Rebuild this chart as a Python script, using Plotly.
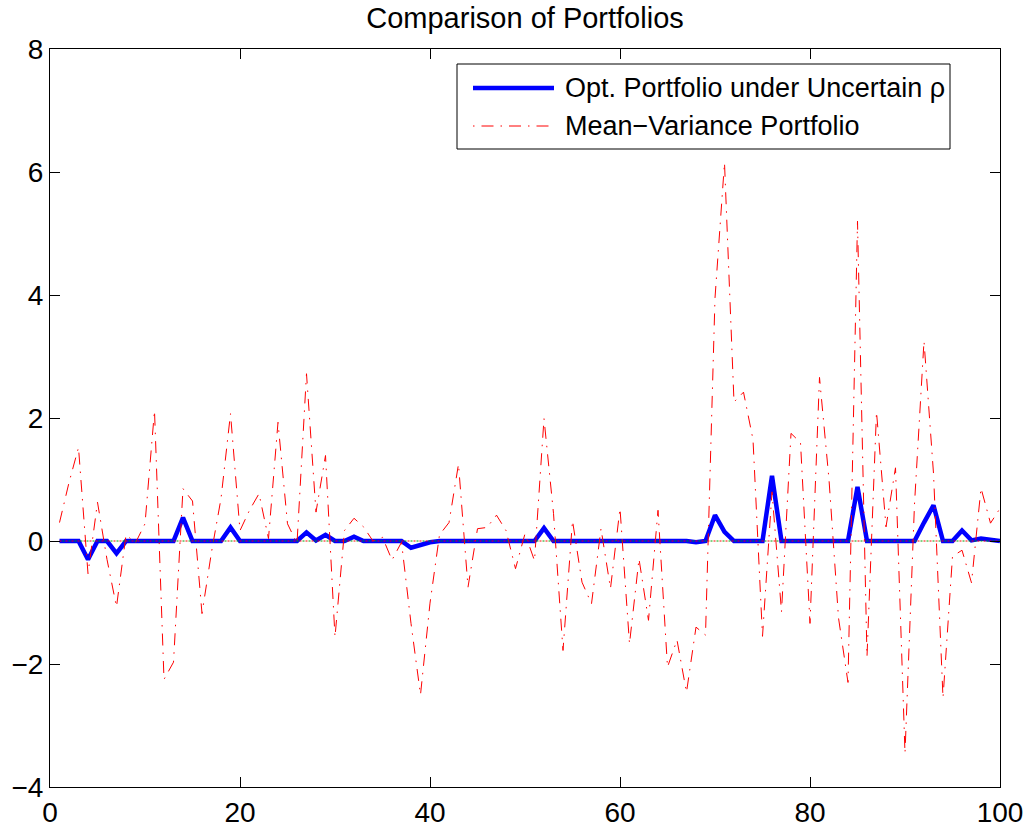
import plotly.graph_objects as go

x_vals = list(range(1, 101))

opt_portfolio = [
    0, 0, 0, -0.3, 0, 0, -0.2, 0, 0, 0,
    0, 0, 0, 0.38, 0, 0, 0, 0, 0.22, 0,
    0, 0, 0, 0, 0, 0, 0.14, 0.01, 0.1, 0,
    0, 0.07, 0, 0, 0, 0, 0, -0.11, -0.06, -0.02,
    0, 0, 0, 0, 0, 0, 0, 0, 0, 0,
    0, 0.21, 0, 0, 0, 0, 0, 0, 0, 0,
    0, 0, 0, 0, 0, 0, 0, -0.02, 0, 0.42,
    0.15, 0, 0, 0, 0, 1.06, 0, 0, 0, 0,
    0, 0, 0, 0, 0.88, 0, 0, 0, 0, 0,
    0, 0.3, 0.58, 0, 0, 0.17, 0.01, 0.04, 0.02, 0,
]

mean_variance = [
    0.3, 0.95, 1.52, -0.53, 0.63, -0.3, -1.07, 0.1, -0.03, 0.28,
    2.12, -2.25, -1.97, 0.85, 0.65, -1.18, -0.18, 0.69, 2.07, 0.17,
    0.5, 0.77, 0.04, 1.93, 0.28, -0.04, 2.72, 0.47, 1.39, -1.56,
    0.17, 0.37, 0.23, 0.0, 0.06, -0.31, -0.02, -1.34, -2.5, -1.01,
    0.1, 0.3, 1.25, -0.75, 0.2, 0.22, 0.42, 0.17, -0.45, 0.12,
    -0.32, 1.99, 0.45, -1.78, 0.33, -0.67, -1.02, 0.2, -0.77, 0.53,
    -1.67, -0.29, -1.29, 0.5, -2.05, -1.61, -2.46, -1.4, -1.53, 3.95,
    6.15, 2.26, 2.42, 1.65, -1.55, 0.8, -1.15, 1.75, 1.6, -1.34,
    2.66, 1.0, -1.25, -2.3, 5.2, -1.88, 2.1, 0.23, 1.19, -3.45,
    0.6, 3.25, 1.1, -2.55, -0.25, -0.15, -0.68, 0.86, 0.29, 0.53,
]

zero_line = [0] * 100

x_ticks = [0, 20, 40, 60, 80, 100]
y_ticks = [-4, -2, 0, 2, 4, 6, 8]

title_text = "Comparison of Portfolios"
legend_names = ["Opt. Portfolio under Uncertain ρ", "Mean\u2212Variance Portfolio"]

FONT = "Liberation Sans, Arial, Helvetica, sans-serif"
W, H = 1029, 829
L, R, T, B = 50, 1000, 49, 787  # plot area pixel bounds


def px(xp):
    return (xp - L) / (R - L)


def py(yp):
    return (B - yp) / (B - T)


fig = go.Figure()
fig.add_trace(go.Scatter(x=x_vals, y=opt_portfolio, mode="lines",
                         line=dict(color="#0000ff", width=4.5),
                         name=legend_names[0], showlegend=False))
fig.add_trace(go.Scatter(x=x_vals, y=mean_variance, mode="lines",
                         line=dict(color="#ff0000", width=1, dash="12px,7px,1.5px,7px"),
                         name=legend_names[1], showlegend=False))
fig.add_trace(go.Scatter(x=x_vals, y=zero_line, mode="lines",
                         line=dict(color="#ff0000", width=1, dash="2px,4px"),
                         showlegend=False, hoverinfo="skip"))
fig.add_trace(go.Scatter(x=x_vals, y=zero_line, mode="lines",
                         line=dict(color="#00a000", width=1, dash="0px,3px,2px,1px"),
                         showlegend=False, hoverinfo="skip"))

axis_common = dict(
    showgrid=False, zeroline=False, showline=True, linecolor="black", linewidth=1,
    mirror="ticks", ticks="inside", ticklen=10, tickwidth=1, tickcolor="black",
    tickfont=dict(family=FONT, size=28, color="black"), automargin=False,
)

fig.update_layout(
    width=W, height=H,
    margin=dict(l=L, r=W - R, t=T, b=H - B, pad=0),
    paper_bgcolor="white", plot_bgcolor="white",
    title=dict(text=title_text, x=(367 + 683) / 2 / W, xanchor="center",
               y=1 - 18 / H, yanchor="middle", yref="container",
               font=dict(family=FONT, size=29, color="black"), automargin=False),
    xaxis=dict(range=[0, 100], tickvals=x_ticks, **axis_common),
    yaxis=dict(range=[-4, 8], tickvals=y_ticks, **axis_common),
    showlegend=False,
)

# Legend box drawn manually (MATLAB style)
shapes = [
    dict(type="rect", xref="paper", yref="paper", x0=px(457), x1=px(950), y0=py(149), y1=py(64),
         line=dict(color="black", width=1), fillcolor="white", layer="above"),
    dict(type="line", xref="paper", yref="paper", x0=px(473), x1=px(554), y0=py(88), y1=py(88),
         line=dict(color="#0000ff", width=4.5), layer="above"),
    dict(type="line", xref="paper", yref="paper", x0=px(473), x1=px(554), y0=py(126), y1=py(126),
         line=dict(color="#ff0000", width=1, dash="1.5px,7px,12px,7px"), layer="above"),
]
annotations = [
    dict(text=legend_names[0], xref="paper", yref="paper", x=px(563), y=py(88),
         xanchor="left", yanchor="middle", showarrow=False,
         font=dict(family=FONT, size=27, color="black")),
    dict(text=legend_names[1], xref="paper", yref="paper", x=px(563), y=py(126),
         xanchor="left", yanchor="middle", showarrow=False,
         font=dict(family=FONT, size=27, color="black")),
]
fig.update_layout(shapes=shapes, annotations=annotations)

# remove the browser's default page margin so the figure sits at the window origin
fig.write_html("out.html",
               config={"displayModeBar": False},
               post_script="document.body.style.margin='0px';document.body.style.padding='0px';")
